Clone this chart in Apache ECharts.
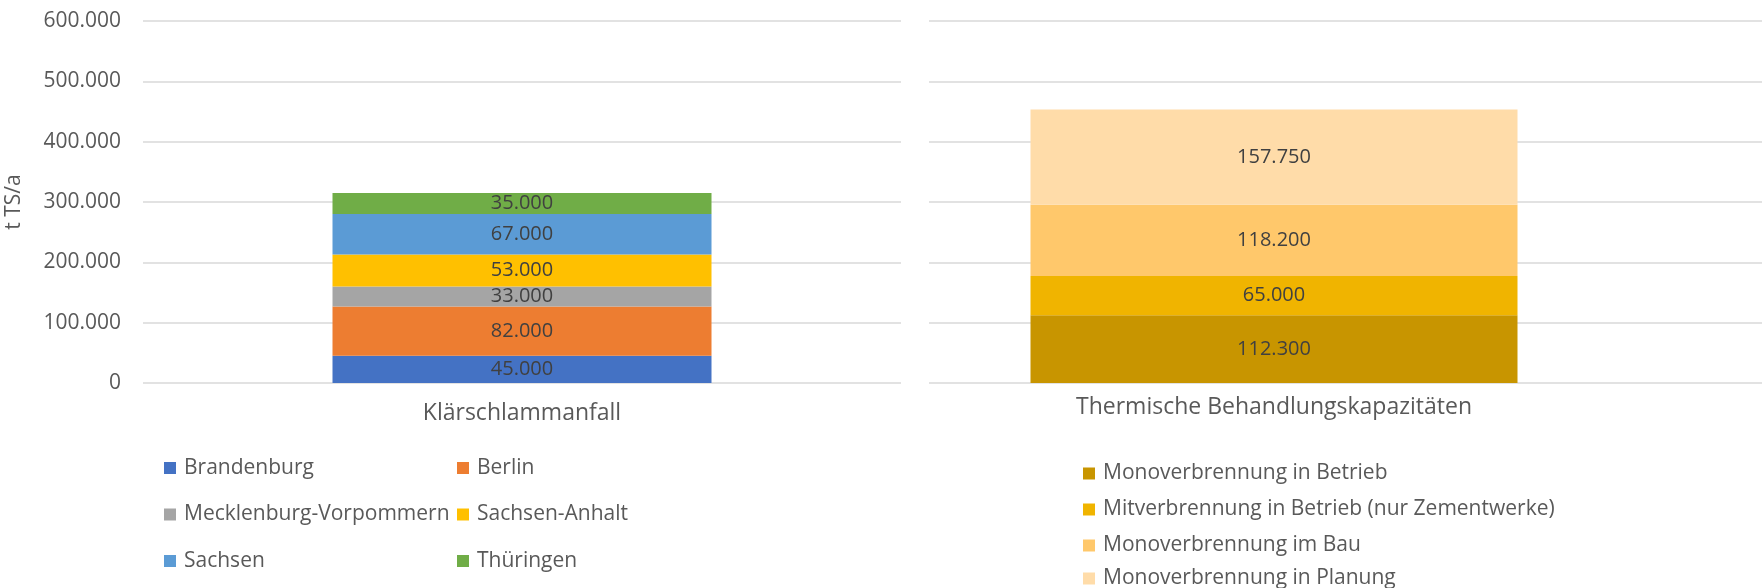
<!DOCTYPE html>
<html><head><meta charset="utf-8">
<script src="https://cdn.jsdelivr.net/npm/echarts@6/dist/echarts.min.js"></script>
<style>html,body{margin:0;padding:0;background:#fff}#c{width:1762px;height:588px}</style>
</head><body><div id="c"></div>
<script>
const yTicks = [0, 100000, 200000, 300000, 400000, 500000, 600000];
const leftCategory = ['Klärschlammanfall'];
const leftSeriesNames = ['Brandenburg', 'Berlin', 'Mecklenburg-Vorpommern', 'Sachsen-Anhalt', 'Sachsen', 'Thüringen'];
const leftValues = [45000, 82000, 33000, 53000, 67000, 35000];
const leftColors = ['#4472C4', '#ED7D31', '#A5A5A5', '#FFC000', '#5B9BD5', '#70AD47'];
const rightCategory = ['Thermische Behandlungskapazitäten'];
const rightSeriesNames = ['Monoverbrennung in Betrieb', 'Mitverbrennung in Betrieb (nur Zementwerke)', 'Monoverbrennung im Bau', 'Monoverbrennung in Planung'];
const rightValues = [112300, 65000, 118200, 157750];
const rightColors = ['#C89500', '#F0B400', '#FFC86B', '#FFDCA9'];

const FONT = 'Open Sans';
const fmt = v => String(Math.round(v)).replace(/\B(?=(\d{3})+(?!\d))/g, '.');
const yMin = yTicks[0], yMax = yTicks[yTicks.length - 1], yInt = yTicks[1] - yTicks[0];

const chart = echarts.init(document.getElementById('c'));
const dataLabel = { show: true, position: 'inside', formatter: p => fmt(p.value), color: '#404040', fontFamily: FONT, fontSize: 20 };
const series = [];
leftSeriesNames.forEach((n, i) => series.push({
  name: n, type: 'bar', stack: 'L', xAxisIndex: 0, yAxisIndex: 0,
  barWidth: 379, data: [leftValues[i]], itemStyle: { color: leftColors[i] }, label: dataLabel
}));
rightSeriesNames.forEach((n, i) => series.push({
  name: n, type: 'bar', stack: 'R', xAxisIndex: 1, yAxisIndex: 1,
  barWidth: 487, data: [rightValues[i]], itemStyle: { color: rightColors[i] }, label: dataLabel
}));

const legendText = { color: '#595959', fontFamily: FONT, fontSize: 21, lineHeight: 20, padding: [0, 0, 0, 3] };
const legendBase = { orient: 'vertical', padding: 0, itemWidth: 12, itemHeight: 12, icon: 'rect', textStyle: legendText };
chart.setOption({
  animation: false,
  grid: [
    { left: 143, top: 21, width: 758, height: 362 },
    { left: 929, top: 21, width: 690, height: 362 },
    { left: 929, top: 21, width: 833, height: 362 }
  ],
  xAxis: [
    { type: 'category', gridIndex: 0, data: leftCategory, axisLine: { show: false }, axisTick: { show: false },
      axisLabel: { color: '#595959', fontFamily: FONT, fontSize: 23, margin: 19 } },
    { type: 'category', gridIndex: 1, data: rightCategory, axisLine: { show: false }, axisTick: { show: false },
      axisLabel: { color: '#595959', fontFamily: FONT, fontSize: 23, margin: 13 } },
    { type: 'category', gridIndex: 2, data: [''], show: false }
  ],
  yAxis: [
    { type: 'value', gridIndex: 0, min: yMin, max: yMax, interval: yInt,
      name: 't TS/a', nameLocation: 'middle', nameGap: 118, nameRotate: 90,
      nameTextStyle: { color: '#595959', fontFamily: FONT, fontSize: 21 },
      axisLine: { show: false }, axisTick: { show: false },
      axisLabel: { color: '#595959', fontFamily: FONT, fontSize: 21, margin: 22, formatter: v => fmt(v) },
      splitLine: { lineStyle: { color: '#D9D9D9', width: 1.5 } } },
    { type: 'value', gridIndex: 1, min: yMin, max: yMax, interval: yInt, show: false, splitLine: { show: false } },
    { type: 'value', gridIndex: 2, min: yMin, max: yMax, interval: yInt,
      axisLine: { show: false }, axisTick: { show: false }, axisLabel: { show: false },
      splitLine: { lineStyle: { color: '#D9D9D9', width: 1.5 } } }
  ],
  legend: [
    Object.assign({}, legendBase, { left: 164, top: 457.5, itemGap: 25.5,
      data: [leftSeriesNames[0], leftSeriesNames[2], leftSeriesNames[4]] }),
    Object.assign({}, legendBase, { left: 457, top: 457.5, itemGap: 25.5,
      data: [leftSeriesNames[1], leftSeriesNames[3], leftSeriesNames[5]] }),
    Object.assign({}, legendBase, { left: 1083, top: 463, itemGap: 15,
      data: rightSeriesNames.slice(0, 3) }),
    Object.assign({}, legendBase, { left: 1083, top: 568, itemGap: 15,
      data: rightSeriesNames.slice(3) })
  ],
  series: series
});
</script></body></html>
